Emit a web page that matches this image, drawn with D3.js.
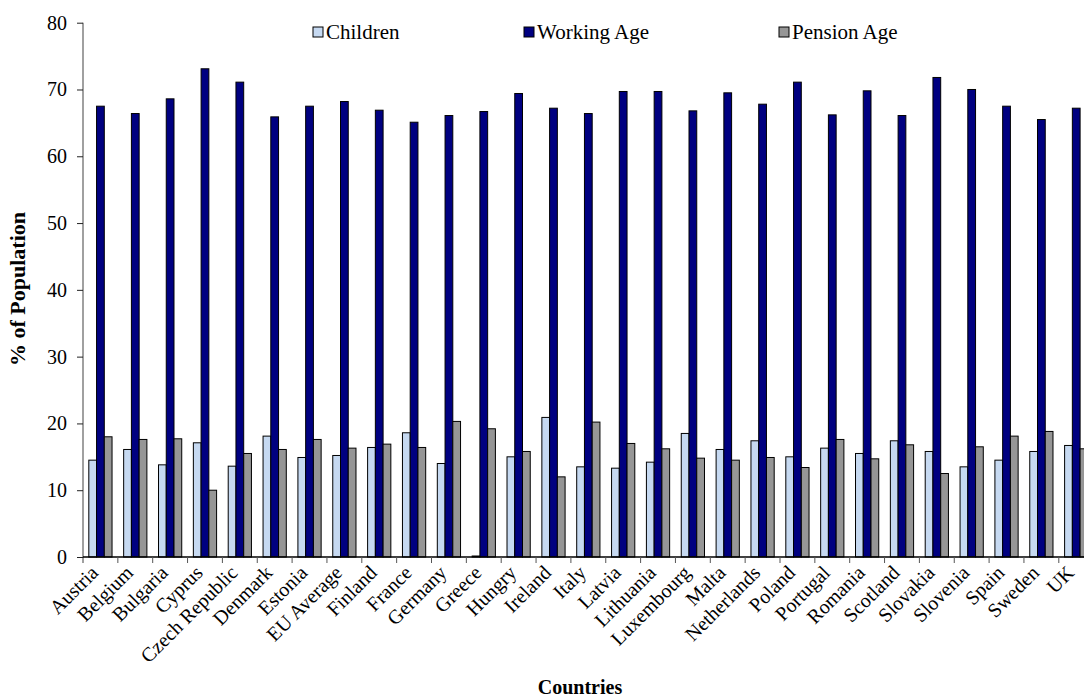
<!DOCTYPE html>
<html>
<head>
<meta charset="utf-8">
<script src="https://cdn.jsdelivr.net/npm/d3@7"></script>
<style>
  body { margin: 0; background: #fff; }
  svg { display: block; }
  text { font-family: "Liberation Serif", "Times New Roman", serif; fill: #000; }
</style>
</head>
<body>
<svg id="chart" width="1084" height="697"></svg>
<script>
// Population share by age group, % of population
const countries = ["Austria", "Belgium", "Bulgaria", "Cyprus", "Czech Republic", "Denmark", "Estonia",
  "EU Average", "Finland", "France", "Germany", "Greece", "Hungry", "Ireland", "Italy", "Latvia",
  "Lithuania", "Luxembourg", "Malta", "Netherlands", "Poland", "Portugal", "Romania", "Scotland",
  "Slovakia", "Slovenia", "Spain", "Sweden", "UK"];
const children = [14.5, 16.1, 13.8, 17.1, 13.6, 18.1, 14.9, 15.2, 16.4, 18.6, 14.0, 0.15, 15.0, 20.9, 13.5,
  13.3, 14.2, 18.5, 16.1, 17.4, 15.0, 16.3, 15.5, 17.4, 15.8, 13.5, 14.5, 15.8, 16.7];
const workingAge = [67.5, 66.4, 68.6, 73.1, 71.1, 65.9, 67.5, 68.2, 66.9, 65.1, 66.1, 66.7, 69.4, 67.2, 66.4,
  69.7, 69.7, 66.8, 69.5, 67.8, 71.1, 66.2, 69.8, 66.1, 71.8, 70.0, 67.5, 65.5, 67.2];
const pensionAge = [18.0, 17.6, 17.7, 10.0, 15.5, 16.1, 17.6, 16.3, 16.9, 16.4, 20.3, 19.2, 15.8, 12.0, 20.2,
  17.0, 16.2, 14.8, 14.5, 14.9, 13.4, 17.6, 14.7, 16.8, 12.5, 16.5, 18.1, 18.8, 16.2];
const seriesNames = ["Children", "Working Age", "Pension Age"];
const seriesColors = ["#C6D9F1", "#000080", "#969696"];
const yTicks = [0, 10, 20, 30, 40, 50, 60, 70, 80];

const seriesValues = [children, workingAge, pensionAge];
const rows = countries.map((c, i) => ({
  country: c,
  values: seriesNames.map((s, k) => ({ series: s, value: seriesValues[k][i], color: seriesColors[k] }))
}));

const svg = d3.select("#chart");
const plotLeft = 83, step = 34.85, plotTop = 22.7, plotBottom = 557;

const x = d3.scaleBand().domain(countries).range([plotLeft, plotLeft + countries.length * step]).padding(0);
const bw = x.bandwidth();
const barW = bw / 4.5;
const xs = d3.scaleBand().domain(seriesNames).range([0.75 * barW, 3.75 * barW]).padding(0);
const y = d3.scaleLinear().domain([0, 80]).range([plotBottom, plotTop]);

// bars
const groups = svg.append("g").selectAll("g").data(rows).join("g")
  .attr("transform", d => `translate(${x(d.country)},0)`);
groups.selectAll("rect").data(d => d.values).join("rect")
  .attr("x", d => xs(d.series))
  .attr("y", d => y(d.value))
  .attr("width", xs.bandwidth())
  .attr("height", d => y(0) - y(d.value))
  .attr("fill", d => d.color)
  .attr("stroke", "#000")
  .attr("stroke-width", 1);

// y axis
const yAxis = svg.append("g").attr("transform", `translate(${plotLeft},0)`)
  .call(d3.axisLeft(y).tickValues(yTicks).tickSize(6).tickPadding(10).tickFormat(d3.format("d")));
yAxis.select(".domain").attr("stroke", "#808080").attr("stroke-width", 1.5)
  .attr("d", `M0,${plotTop}V${plotBottom + 6}`);
yAxis.selectAll(".tick line").attr("stroke", "#222");
yAxis.selectAll(".tick text").style("font-family", "'Liberation Serif', serif").style("font-size", "20px");

// x axis
const xAxis = svg.append("g").attr("transform", `translate(0,${plotBottom})`)
  .call(d3.axisBottom(x).tickSize(0).tickFormat(""));
xAxis.select(".domain").attr("stroke", "#000").attr("stroke-width", 1.5)
  .attr("d", `M${plotLeft},0H${plotLeft + countries.length * step}`);
xAxis.selectAll(".tick line").remove();
// category separators
svg.append("g").selectAll("line").data(countries.slice(1)).join("line")
  .attr("x1", d => x(d)).attr("x2", d => x(d))
  .attr("y1", plotBottom).attr("y2", plotBottom + 6)
  .attr("stroke", "#555").attr("stroke-width", 1);

// category labels, slanted at 45 degrees
const labelG = svg.append("g");
countries.forEach(c => {
  const cx = x(c) + bw / 2 - 6;
  labelG.append("g")
    .attr("transform", `translate(${cx},569)`)
    .append("text")
    .attr("transform", "rotate(-45)")
    .attr("text-anchor", "end")
    .attr("dy", "0.35em")
    .style("font-size", "20px")
    .text(c);
});

// axis titles
svg.append("text")
  .attr("transform", `translate(25,289) rotate(-90)`)
  .attr("text-anchor", "middle")
  .style("font-size", "22px").style("font-weight", "bold")
  .text("% of Population");
svg.append("text")
  .attr("x", 580).attr("y", 694)
  .attr("text-anchor", "middle")
  .style("font-size", "20px").style("font-weight", "bold")
  .text("Countries");

// legend
const legendX = [313, 524, 779];
const legend = svg.append("g").selectAll("g").data(seriesNames).join("g")
  .attr("transform", (d, i) => `translate(${legendX[i]},27)`);
legend.append("rect")
  .attr("width", 10).attr("height", 10)
  .attr("fill", (d, i) => seriesColors[i])
  .attr("stroke", "#000").attr("stroke-width", 1);
legend.append("text")
  .attr("x", 13).attr("y", 12)
  .style("font-size", "21px")
  .text(d => d);
</script>
</body>
</html>
